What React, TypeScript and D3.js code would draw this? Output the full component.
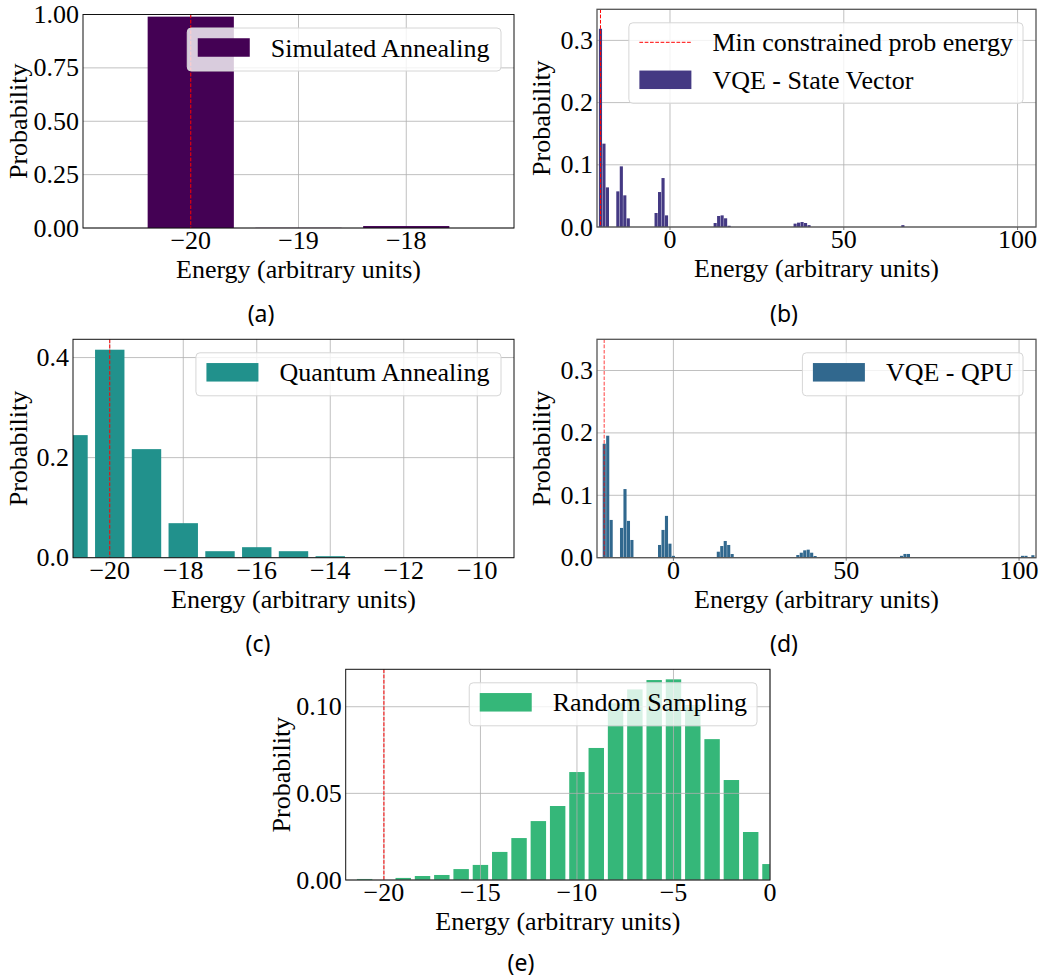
import React from "react";
import * as d3 from "d3";

const SERIF = "'Liberation Serif', 'Times New Roman', serif";
const SANS = "'Noto Sans', 'DejaVu Sans', sans-serif";
const FS = 26;

// (a) Simulated annealing
const saEnergy = [-20, -19, -18];
const saProb = [0.99, 0.0008, 0.0092];

// (b) VQE - state vector simulation
const svEnergy = [-20, -19, -18, -15, -14, -13, -12, -4, -3, -2, -1, 13, 14, 15, 16, 17, 36, 37, 38, 39, 40, 67];
const svProb = [0.3187, 0.134, 0.0637, 0.0573, 0.0975, 0.0509, 0.0139, 0.0225, 0.0562, 0.0787, 0.0187, 0.0064, 0.0177, 0.0187, 0.014, 0.002, 0.0054, 0.007, 0.008, 0.0064, 0.003, 0.003];

// (c) Quantum annealing
const qaEnergy = [-21, -20, -19, -18, -17, -16, -15, -14];
const qaProb = [0.245, 0.4157, 0.217, 0.069, 0.013, 0.021, 0.013, 0.003];

// (d) VQE on QPU
const qpuEnergy = [-20, -19, -18, -15, -14, -13, -12, -4, -3, -2, -1, 0, 12, 13, 14, 15, 16, 17, 36, 37, 38, 39, 40, 41, 66, 67, 68, 101, 102, 104];
const qpuProb = [0.1826, 0.1955, 0.0605, 0.0477, 0.11, 0.059, 0.0284, 0.0204, 0.0445, 0.067, 0.0225, 0.003, 0.001, 0.0096, 0.0187, 0.0268, 0.0204, 0.0059, 0.0043, 0.008, 0.0118, 0.0129, 0.008, 0.0027, 0.003, 0.006, 0.006, 0.003, 0.003, 0.004];

// (e) Random sampling
const rsEnergy = [-21, -20, -19, -18, -17, -16, -15, -14, -13, -12, -11, -10, -9, -8, -7, -6, -5, -4, -3, -2, -1, 0];
const rsProb = [0.0006, 0, 0.0012, 0.0023, 0.0029, 0.0063, 0.0087, 0.0162, 0.0242, 0.034, 0.0427, 0.0623, 0.0762, 0.102, 0.11, 0.1154, 0.1158, 0.101, 0.0813, 0.0577, 0.0277, 0.0092];

// Lowest energy of the constrained problem
const minEnergy = -20;

const X_LABEL = "Energy (arbitrary units)";
const Y_LABEL = "Probability";
const REF_LABEL = "Min constrained prob energy";

const minus = (v: number) => (v < 0 ? "\u2212" + Math.abs(v) : String(v));

type Spec = {
  id: string;
  left: number; top: number; right: number; bottom: number;
  xDomain: [number, number]; yDomain: [number, number];
  xTicks: number[]; yTicks: number[]; yFmt: (v: number) => string;
  energy: number[]; prob: number[]; barWidth: number; color: string;
  label: string; showRefInLegend: boolean;
  refOpacity: number; refWidth: number;
  spine: string; spineWidth: number; gridOnTop: boolean; xTickMarks: boolean;
  yTitleX: number; caption: string; captionX: number; captionY: number;
};

let measureCtx: CanvasRenderingContext2D | null = null;
function textWidth(s: string) {
  if (!measureCtx) measureCtx = document.createElement("canvas").getContext("2d");
  if (!measureCtx) return s.length * FS * 0.45;
  measureCtx.font = `${FS}px ${SERIF}`;
  return measureCtx.measureText(s).width;
}

function Panel({ s }: { s: Spec }) {
  const x = d3.scaleLinear().domain(s.xDomain).range([s.left, s.right]);
  const y = d3.scaleLinear().domain(s.yDomain).range([s.bottom, s.top]);
  const clip = `clip-${s.id}`;

  const grid = (
    <g stroke="#b0b0b0" strokeWidth={0.8}>
      {s.xTicks.map((t) => (
        <line key={"gx" + t} x1={x(t)} x2={x(t)} y1={s.top} y2={s.bottom} />
      ))}
      {s.yTicks.map((t) => (
        <line key={"gy" + t} x1={s.left} x2={s.right} y1={y(t)} y2={y(t)} />
      ))}
    </g>
  );

  const bars = (
    <g clipPath={`url(#${clip})`} fill={s.color}>
      {s.energy.map((e, i) => {
        const x0 = x(e - s.barWidth / 2);
        const x1 = x(e + s.barWidth / 2);
        const y1 = y(s.prob[i]);
        return <rect key={i} x={x0} y={y1} width={x1 - x0} height={s.bottom - y1} />;
      })}
    </g>
  );

  const entries: { kind: "line" | "patch"; text: string }[] = [];
  if (s.showRefInLegend) entries.push({ kind: "line", text: REF_LABEL });
  entries.push({ kind: "patch", text: s.label });
  const maxText = Math.max(...entries.map((e) => textWidth(e.text)));
  const lgW = 10.5 + 52 + 21 + maxText + 10;
  const lgH = 43 + (entries.length - 1) * 37.5;
  const lgX = s.right - 13 - lgW;
  const lgY = s.top + 13.5;

  return (
    <g>
      <defs>
        <clipPath id={clip}>
          <rect x={s.left} y={s.top} width={s.right - s.left} height={s.bottom - s.top} />
        </clipPath>
      </defs>
      {!s.gridOnTop && grid}
      {bars}
      {s.gridOnTop && grid}
      <line
        x1={x(minEnergy)} x2={x(minEnergy)} y1={s.top} y2={s.bottom}
        stroke="red" strokeOpacity={s.refOpacity} strokeWidth={s.refWidth} strokeDasharray="3.7 1.6"
      />
      {/* spines */}
      <rect x={s.left} y={s.top} width={s.right - s.left} height={s.bottom - s.top}
        fill="none" stroke={s.spine} strokeWidth={s.spineWidth} />
      {/* x ticks */}
      <g fontFamily={SERIF} fontSize={FS} fill="#000" textAnchor="middle">
        {s.xTicks.map((t) => (
          <g key={"xt" + t}>
            {s.xTickMarks && <line x1={x(t)} x2={x(t)} y1={s.bottom} y2={s.bottom + 3} stroke={s.spine} strokeWidth={0.8} />}
            <text x={x(t)} y={s.bottom + 21}>{minus(t)}</text>
          </g>
        ))}
      </g>
      <g fontFamily={SERIF} fontSize={FS} fill="#000" textAnchor="end">
        {s.yTicks.map((t) => (
          <text key={"yt" + t} x={s.left - 4} y={y(t)} dominantBaseline="central">{s.yFmt(t)}</text>
        ))}
      </g>
      <text x={(s.left + s.right) / 2} y={s.bottom + 50} textAnchor="middle" fontFamily={SERIF} fontSize={FS}>
        {X_LABEL}
      </text>
      <text
        transform={`translate(${s.yTitleX},${(s.top + s.bottom) / 2}) rotate(-90)`}
        textAnchor="middle" fontFamily={SERIF} fontSize={FS}
      >
        {Y_LABEL}
      </text>
      {/* legend */}
      <g>
        <rect x={lgX} y={lgY} width={lgW} height={lgH} rx={4} ry={4}
          fill="#fff" fillOpacity={0.8} stroke="#d6d6d6" strokeWidth={1} />
        {entries.map((en, i) => {
          const cy = lgY + 19.5 + i * 37.5;
          const px = lgX + 10.5;
          return (
            <g key={i}>
              {en.kind === "line" ? (
                <line x1={px} x2={px + 52} y1={cy} y2={cy} stroke="red" strokeWidth={1} strokeDasharray="3.7 1.6" />
              ) : (
                <rect x={px} y={cy - 9.25} width={52} height={18.5} fill={s.color} />
              )}
              <text x={px + 52 + 21} y={cy + 9} fontFamily={SERIF} fontSize={FS}>{en.text}</text>
            </g>
          );
        })}
      </g>
      <text x={s.captionX} y={s.captionY} textAnchor="middle" fontFamily={SANS} fontSize={23}>
        {s.caption}
      </text>
    </g>
  );
}

const f2 = d3.format(".2f");
const f1 = d3.format(".1f");

const specs: Spec[] = [
  {
    id: "a", left: 83, top: 14.5, right: 514, bottom: 228,
    xDomain: [-21, -17], yDomain: [0, 1.0],
    xTicks: [-20, -19, -18], yTicks: [0, 0.25, 0.5, 0.75, 1.0], yFmt: f2,
    energy: saEnergy, prob: saProb, barWidth: 0.8, color: "#440154",
    label: "Simulated Annealing", showRefInLegend: false,
    refOpacity: 1, refWidth: 1, spine: "#111", spineWidth: 1, gridOnTop: false, xTickMarks: false,
    yTitleX: 27, caption: "(a)", captionX: 261, captionY: 322,
  },
  {
    id: "b", left: 597, top: 9.3, right: 1036, bottom: 227,
    xDomain: [-21, 105.3], yDomain: [0, 0.35],
    xTicks: [0, 50, 100], yTicks: [0, 0.1, 0.2, 0.3], yFmt: f1,
    energy: svEnergy, prob: svProb, barWidth: 0.9, color: "#443983",
    label: "VQE - State Vector", showRefInLegend: true,
    refOpacity: 1, refWidth: 1, spine: "#555", spineWidth: 1.3, gridOnTop: false, xTickMarks: true,
    yTitleX: 550, caption: "(b)", captionX: 784, captionY: 322,
  },
  {
    id: "c", left: 73, top: 339.3, right: 514, bottom: 557.7,
    xDomain: [-21, -9], yDomain: [0, 0.4365],
    xTicks: [-20, -18, -16, -14, -12, -10], yTicks: [0, 0.2, 0.4], yFmt: f1,
    energy: qaEnergy, prob: qaProb, barWidth: 0.8, color: "#21918c",
    label: "Quantum Annealing", showRefInLegend: false,
    refOpacity: 1, refWidth: 1, spine: "#111", spineWidth: 1, gridOnTop: false, xTickMarks: false,
    yTitleX: 27, caption: "(c)", captionX: 258, captionY: 652,
  },
  {
    id: "d", left: 597, top: 339.3, right: 1036, bottom: 557.7,
    xDomain: [-22.1, 104.9], yDomain: [0, 0.35],
    xTicks: [0, 50, 100], yTicks: [0, 0.1, 0.2, 0.3], yFmt: f1,
    energy: qpuEnergy, prob: qpuProb, barWidth: 0.9, color: "#31688e",
    label: "VQE - QPU", showRefInLegend: false,
    refOpacity: 0.5, refWidth: 1.5, spine: "#555", spineWidth: 1.3, gridOnTop: false, xTickMarks: true,
    yTitleX: 550, caption: "(d)", captionX: 784, captionY: 652,
  },
  {
    id: "e", left: 345.7, top: 669.3, right: 770, bottom: 880,
    xDomain: [-21.98, 0], yDomain: [0, 0.1216],
    xTicks: [-20, -15, -10, -5, 0], yTicks: [0, 0.05, 0.1], yFmt: f2,
    energy: rsEnergy, prob: rsProb, barWidth: 0.8, color: "#35b779",
    label: "Random Sampling", showRefInLegend: false,
    refOpacity: 1, refWidth: 1, spine: "#111", spineWidth: 1, gridOnTop: true, xTickMarks: false,
    yTitleX: 290, caption: "(e)", captionX: 521, captionY: 971,
  },
];

export default function App() {
  return (
    <svg
      width={1042}
      height={980}
      viewBox="0 0 1042 980"
      style={{ position: "absolute", left: 0, top: 0, background: "#fff", display: "block" }}
    >
      <rect x={0} y={0} width={1042} height={980} fill="#fff" />
      {specs.map((s) => (
        <Panel key={s.id} s={s} />
      ))}
    </svg>
  );
}
